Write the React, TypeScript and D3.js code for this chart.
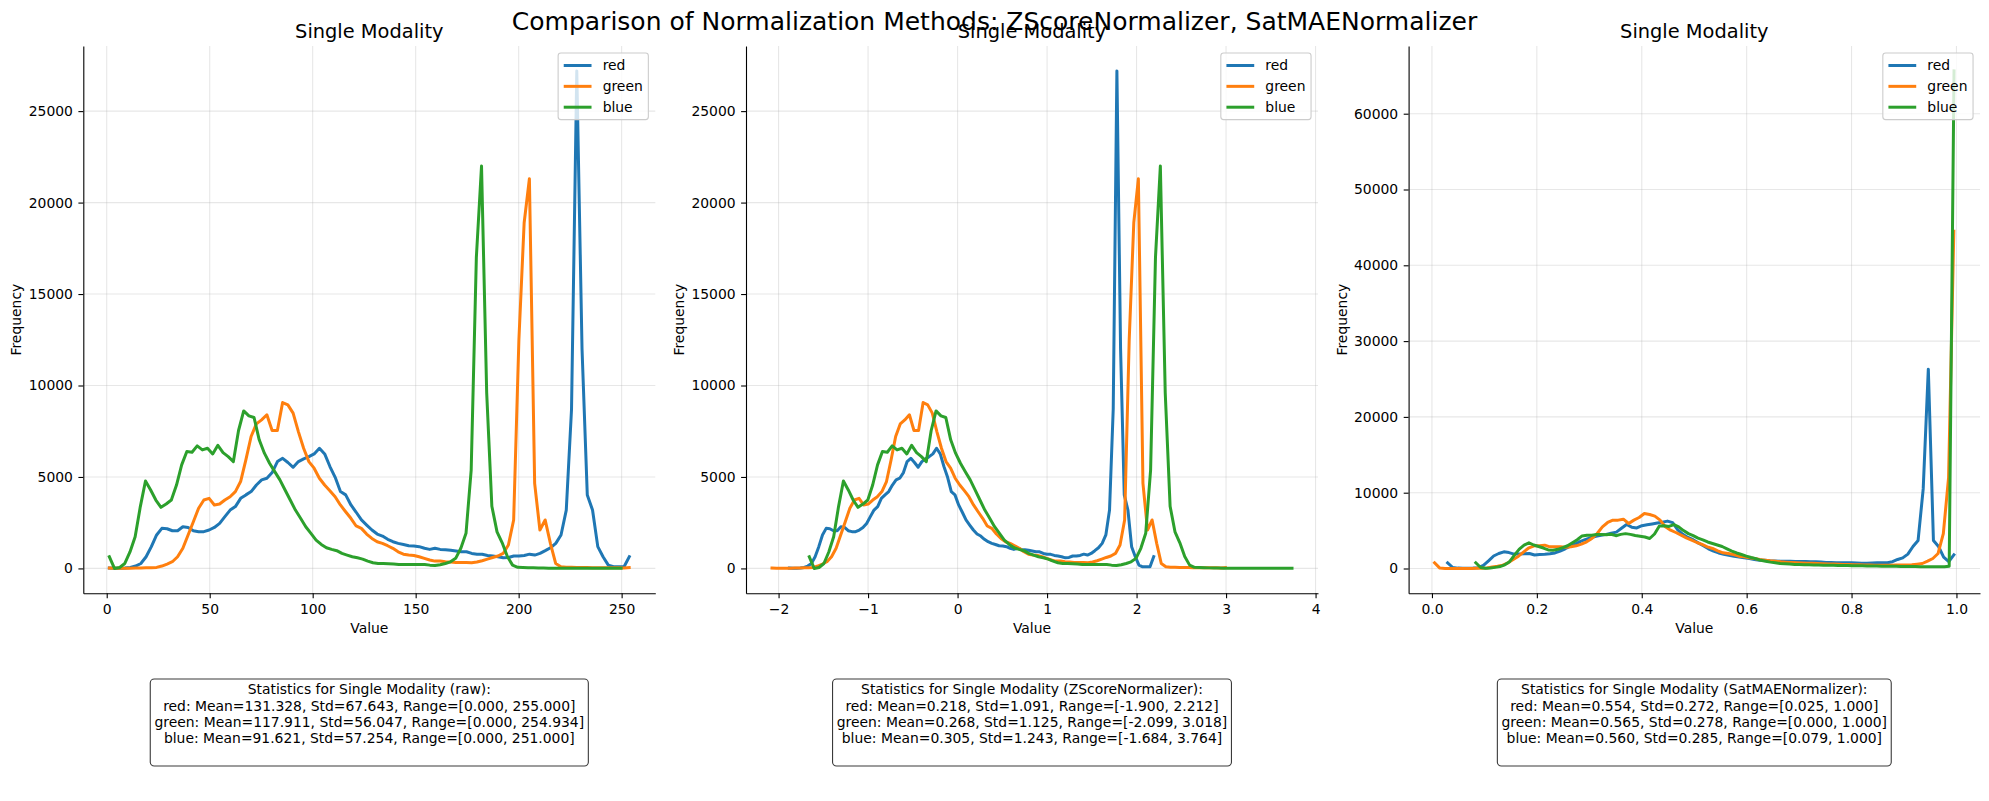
import React, { useEffect, useRef } from 'react';
import * as d3 from 'd3';

// channel names and matplotlib default colours (C0, C1, C2)
const channels = ['red', 'green', 'blue'];
const colors = ['#1f77b4', '#ff7f0e', '#2ca02c'];

// histogram counts (100 bins per channel), raw pixel values
const rawRed = [
  20, 10, 10, 20, 55, 130, 270, 640, 1190, 1830,
  2190, 2170, 2060, 2060, 2280, 2240, 2060, 2010, 2010, 2100,
  2240, 2460, 2830, 3190, 3380, 3830, 4020, 4200, 4560, 4840,
  4930, 5240, 5840, 6020, 5790, 5530, 5840, 5990, 6110, 6260,
  6570, 6260, 5570, 4980, 4200, 4020, 3470, 3070, 2650, 2370,
  2100, 1880, 1770, 1590, 1460, 1370, 1310, 1240, 1220, 1190,
  1100, 1040, 1100, 1040, 1020, 990, 950, 910, 910, 820,
  780, 770, 710, 680, 640, 580, 600, 680, 680, 710,
  780, 730, 820, 970, 1130, 1370, 1830, 3190, 8700, 27200,
  12000, 4020, 3190, 1190, 640, 180, 90, 90, 90, 640,
];
const rawGreen = [
  20, 10, 10, 10, 15, 20, 25, 30, 40, 55,
  130, 240, 365, 640, 1100, 1830, 2550, 3290, 3740, 3830,
  3470, 3520, 3740, 3920, 4200, 4750, 5930, 7210, 7900, 8120,
  8400, 7540, 7540, 9070, 8940, 8490, 7480, 6570, 5840, 5480,
  4930, 4560, 4250, 3920, 3470, 3100, 2740, 2320, 2190, 1880,
  1640, 1460, 1370, 1240, 1100, 910, 780, 730, 710, 640,
  550, 460, 400, 400, 365, 350, 330, 330, 330, 310,
  350, 420, 510, 600, 680, 820, 1280, 2650, 12500, 18900,
  21300, 4650, 2100, 2650, 1370, 270, 90, 70, 60, 55,
  50, 45, 40, 40, 35, 35, 30, 30, 25, 40,
];
const rawBlue = [
  640, 0, 50, 270, 900, 1730, 3380, 4780, 4290, 3740,
  3340, 3520, 3740, 4560, 5660, 6390, 6350, 6700, 6480, 6570,
  6260, 6730, 6330, 6110, 5840, 7540, 8610, 8340, 8250, 7030,
  6300, 5750, 5290, 4840, 4290, 3740, 3190, 2740, 2280, 1920,
  1550, 1310, 1130, 1040, 970, 820, 730, 640, 580, 510,
  400, 310, 270, 270, 255, 240, 220, 220, 220, 210,
  220, 220, 180, 160, 200, 270, 360, 550, 1100, 1920,
  5380, 17000, 22000, 9600, 3400, 2000, 1400, 650, 180, 60,
  50, 40, 30, 25, 20, 15, 12, 10, 10, 8,
  8, 6, 6, 5, 5, 4, 4, 3, 3, 3,
];

// histogram counts (100 bins per channel) after SatMAENormalizer
const satRed = [
  750, 130, 50, 40, 40, 50, 100, 400, 1000, 1650,
  1980, 2200, 2100, 1900, 1900, 1930, 1980, 1780, 1850, 1890,
  1950, 2050, 2300, 2600, 2950, 3250, 3580, 3830, 4050, 4250,
  4380, 4500, 4650, 4800, 5300, 5800, 5450, 5350, 5650, 5760,
  5880, 6000, 6100, 6250, 6050, 5100, 4500, 4100, 3800, 3380,
  3000, 2600, 2300, 2050, 1880, 1740, 1620, 1530, 1410, 1320,
  1190, 1100, 1080, 1010, 1000, 970, 960, 950, 920, 920,
  910, 880, 880, 850, 800, 790, 760, 750, 750, 750,
  720, 700, 700, 720, 750, 750, 760, 900, 1190, 1400,
  1900, 2900, 3700, 10500, 26300, 3700, 2900, 1500, 900, 1800,
];
const satGreen = [
  750, 50, 10, 10, 10, 10, 10, 15, 20, 30,
  60, 200, 310, 440, 750, 1190, 1630, 2200, 2730, 2990,
  3000, 3080, 2860, 2860, 2860, 2800, 2860, 2990, 3210, 3520,
  3960, 4620, 5500, 6070, 6380, 6380, 6510, 5940, 6380, 6730,
  7260, 7130, 6910, 6380, 5500, 5060, 4750, 4400, 4050, 3740,
  3430, 3170, 2860, 2640, 2330, 2070, 1980, 1850, 1630, 1540,
  1410, 1320, 1190, 1100, 1010, 970, 880, 840, 790, 750,
  720, 700, 680, 650, 630, 600, 580, 560, 540, 520,
  500, 480, 460, 450, 440, 440, 440, 440, 450, 450,
  460, 480, 570, 660, 970, 1320, 1980, 4600, 12000, 44500,
];
const satBlue = [
  750, 130, 20, 60, 150, 250, 480, 900, 1760, 2550,
  3080, 3390, 3100, 2900, 2700, 2450, 2420, 2530, 2750, 3000,
  3400, 3800, 4300, 4400, 4400, 4480, 4490, 4450, 4520, 4330,
  4500, 4600, 4500, 4350, 4250, 4150, 3960, 4550, 5600, 5650,
  5550, 5800, 5500, 5000, 4600, 4330, 4000, 3780, 3500, 3300,
  3100, 2900, 2600, 2300, 2050, 1850, 1640, 1450, 1280, 1080,
  960, 840, 760, 670, 620, 580, 540, 520, 500, 490,
  470, 460, 440, 430, 420, 400, 390, 380, 370, 360,
  350, 340, 330, 320, 310, 300, 300, 290, 280, 270,
  260, 250, 240, 230, 220, 220, 220, 230, 300, 65650,
];

// value ranges and statistics per channel
const rawMin = [0, 0, 0];
const rawMax = [255, 254.934, 251];
const rawMean = [131.328, 117.911, 91.621];
const rawStd = [67.643, 56.047, 57.254];

const zMin = [-1.9, -2.099, -1.684];
const zMax = [2.212, 3.018, 3.764];
const zMean = [0.218, 0.268, 0.305];
const zStd = [1.091, 1.125, 1.243];

const satMin = [0.025, 0.0, 0.079];
const satMax = [1.0, 1.0, 1.0];
const satMean = [0.554, 0.565, 0.56];
const satStd = [0.272, 0.278, 0.285];

// ticks
const xTicksRaw = [0, 50, 100, 150, 200, 250];
const xTicksZ = [-2, -1, 0, 1, 2, 3, 4];
const xTicksSat = [0, 0.2, 0.4, 0.6, 0.8, 1.0];
const yTicksA = [0, 5000, 10000, 15000, 20000, 25000];
const yTicksSat = [0, 10000, 20000, 30000, 40000, 50000, 60000];

const suptitle = 'Comparison of Normalization Methods: ZScoreNormalizer, SatMAENormalizer';

// layout
const W = 1989;
const H = 801;
const TOP = 46;
const BOTTOM = 593.3;
const FONT = 'DejaVu Sans';
const FS = 13.9;
const LW = 3;

const minus = (s: string) => s.replace('-', '\u2212');

const panels = [
  {
    method: 'raw', counts: [rawRed, rawGreen, rawBlue], mins: rawMin, maxs: rawMax,
    means: rawMean, stds: rawStd, xTicks: xTicksRaw, yTicks: yTicksA,
    fmt: (d: number) => String(d), left: 83.3, right: 655.3,
  },
  {
    method: 'ZScoreNormalizer', counts: [rawRed, rawGreen, rawBlue], mins: zMin, maxs: zMax,
    means: zMean, stds: zStd, xTicks: xTicksZ, yTicks: yTicksA,
    fmt: (d: number) => minus(String(d)), left: 746, right: 1318,
  },
  {
    method: 'SatMAENormalizer', counts: [satRed, satGreen, satBlue], mins: satMin, maxs: satMax,
    means: satMean, stds: satStd, xTicks: xTicksSat, yTicks: yTicksSat,
    fmt: (d: number) => d.toFixed(1), left: 1408.6, right: 1980,
  },
];

function drawPanel(svg: any, p: any) {
  // bin centres of each channel's histogram
  const series = p.counts.map((c: number[], k: number) => {
    const w = (p.maxs[k] - p.mins[k]) / c.length;
    return c.map((v, i) => [p.mins[k] + (i + 0.5) * w, v]);
  });
  const pts = series.flat();
  const xe = d3.extent(pts, (d: any) => d[0]) as number[];
  const ye = d3.extent(pts, (d: any) => d[1]) as number[];
  const mx = (xe[1] - xe[0]) * 0.05;
  const my = (ye[1] - ye[0]) * 0.05;
  const x = d3.scaleLinear().domain([xe[0] - mx, xe[1] + mx]).range([p.left, p.right]);
  const y = d3.scaleLinear().domain([ye[0] - my, ye[1] + my]).range([BOTTOM, TOP]);
  const cx = (p.left + p.right) / 2;

  const g = svg.append('g');

  // grid
  g.selectAll('.gx').data(p.xTicks).enter().append('line')
    .attr('x1', (d: number) => x(d)).attr('x2', (d: number) => x(d))
    .attr('y1', TOP).attr('y2', BOTTOM)
    .attr('stroke', '#b0b0b0').attr('stroke-opacity', 0.3).attr('stroke-width', 1.1);
  g.selectAll('.gy').data(p.yTicks).enter().append('line')
    .attr('x1', p.left).attr('x2', p.right)
    .attr('y1', (d: number) => y(d)).attr('y2', (d: number) => y(d))
    .attr('stroke', '#b0b0b0').attr('stroke-opacity', 0.3).attr('stroke-width', 1.1);

  // lines
  const line = d3.line().x((d: any) => x(d[0])).y((d: any) => y(d[1]));
  series.forEach((s: any, k: number) => {
    g.append('path').attr('d', line(s)).attr('fill', 'none')
      .attr('stroke', colors[k]).attr('stroke-width', LW)
      .attr('stroke-linejoin', 'round').attr('stroke-linecap', 'square');
  });

  // axes (left and bottom spines only)
  const ax = g.append('g').attr('transform', `translate(0,${BOTTOM})`)
    .call(d3.axisBottom(x).tickValues(p.xTicks).tickFormat(p.fmt).tickSize(4.9).tickSizeOuter(0).tickPadding(5.5));
  const ay = g.append('g').attr('transform', `translate(${p.left},0)`)
    .call(d3.axisLeft(y).tickValues(p.yTicks).tickFormat((d: any) => String(d)).tickSize(4.9).tickSizeOuter(0).tickPadding(5.5));
  [ax, ay].forEach((a) => {
    a.attr('font-family', FONT).attr('font-size', FS);
    a.selectAll('path, line').attr('stroke', '#000').attr('stroke-width', 1.1);
    a.selectAll('text').attr('fill', '#000');
  });

  // titles and labels
  g.append('text').attr('x', cx).attr('y', TOP - 8.3).attr('text-anchor', 'middle')
    .attr('font-family', FONT).attr('font-size', 19.4).text('Single Modality');
  g.append('text').attr('x', cx).attr('y', 633).attr('text-anchor', 'middle')
    .attr('font-family', FONT).attr('font-size', FS).text('Value');
  g.append('text').attr('transform', `translate(${p.left - 62},${(TOP + BOTTOM) / 2}) rotate(-90)`)
    .attr('text-anchor', 'middle').attr('font-family', FONT).attr('font-size', FS).text('Frequency');

  // legend, upper right
  const lg = g.append('g');
  const box = lg.append('rect');
  const labels = channels.map((c) => lg.append('text')
    .attr('font-family', FONT).attr('font-size', FS).attr('dy', '0.35em').text(c));
  const tw = d3.max(labels, (t: any) => t.node().getComputedTextLength()) as number;
  const bw = 5.6 + 27.8 + 11.1 + tw + 5.6;
  const bx = p.right - 6.95 - bw;
  const by = TOP + 6.95;
  box.attr('x', bx).attr('y', by).attr('width', bw).attr('height', 66.7)
    .attr('rx', 2.8).attr('fill', 'white').attr('fill-opacity', 0.8)
    .attr('stroke', '#cccccc').attr('stroke-width', 1.1);
  channels.forEach((c, k) => {
    const ly = by + 5.6 + 6.95 + k * 20.85;
    lg.append('line').attr('x1', bx + 5.6).attr('x2', bx + 5.6 + 27.8)
      .attr('y1', ly).attr('y2', ly).attr('stroke', colors[k]).attr('stroke-width', LW);
    labels[k].attr('x', bx + 5.6 + 27.8 + 11.1).attr('y', ly);
  });

  // statistics box under the axes
  const sg = g.append('g');
  const sbox = sg.append('rect');
  const lines = [`Statistics for Single Modality (${p.method}):`].concat(
    channels.map((c, k) => `${c}: Mean=${p.means[k].toFixed(3)}, Std=${p.stds[k].toFixed(3)}, ` +
      `Range=[${p.mins[k].toFixed(3)}, ${p.maxs[k].toFixed(3)}]`));
  const texts = lines.map((t, i) => sg.append('text').attr('x', cx).attr('y', 694.3 + i * 16.3)
    .attr('text-anchor', 'middle').attr('font-family', FONT).attr('font-size', FS).text(t));
  const sw = d3.max(texts, (t: any) => t.node().getComputedTextLength()) as number;
  sbox.attr('x', cx - sw / 2 - 4.2).attr('y', 679).attr('width', sw + 8.4).attr('height', 87)
    .attr('rx', 4).attr('fill', 'white').attr('stroke', '#3a3a3a').attr('stroke-width', 1.1);
}

export default function App() {
  const svgRef = useRef<SVGSVGElement>(null);

  useEffect(() => {
    const svg = d3.select(svgRef.current);
    svg.selectAll('*').remove();
    svg.append('rect').attr('width', W).attr('height', H).attr('fill', 'white');
    panels.forEach((p) => drawPanel(svg, p));
    svg.append('text').attr('x', W / 2).attr('y', 30).attr('text-anchor', 'middle')
      .attr('font-family', FONT).attr('font-size', 25).text(suptitle);
  }, []);

  return (
    <svg ref={svgRef} width={W} height={H}
      style={{ position: 'absolute', left: 0, top: 0, display: 'block' }} />
  );
}
